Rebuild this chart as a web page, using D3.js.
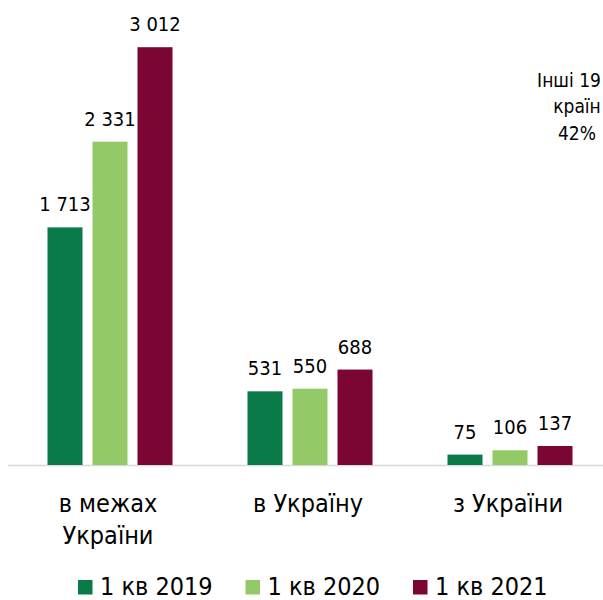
<!DOCTYPE html>
<html>
<head>
<meta charset="utf-8">
<script src="https://cdn.jsdelivr.net/npm/d3@7"></script>
<style>
  body { margin: 0; background: #fff; overflow: hidden; }
  svg { display: block; font-family: 'DejaVu Sans Condensed', 'DejaVu Sans', sans-serif; font-stretch: condensed; }
</style>
</head>
<body>
<div id="chart"></div>
<script>
// categories and series
const categories = [['в межах', 'України'], ['в Україну'], ['з України']]
const categoryKeys = ['inside', 'to', 'from']
const seriesNames = ['1 кв 2019', '1 кв 2020', '1 кв 2021']
const seriesColors = ['#0a7a48', '#93c967', '#7b0533']
const values2019 = [1713, 531, 75]
const values2020 = [2331, 550, 106]
const values2021 = [3012, 688, 137]
const sideNote = ['Інші 19', 'країн', '42%']

const width = 603
const height = 600
const baseY = 465

const svg = d3.select('#chart')
  .append('svg')
  .attr('width', width)
  .attr('height', height)

const seriesValues = [values2019, values2020, values2021]

let x0 = d3.scaleBand().domain(categoryKeys).range([10, 610]).padding(0)
let x1 = d3.scaleBand().domain(seriesNames).range([37.5, 162.5]).paddingInner(10 / 45).paddingOuter(0)
let y = d3.scaleLinear().domain([0, 3100]).range([baseY, 35])

let fmt = v => d3.format(',')(v).replace(/,/g, ' ')

let data = []
categoryKeys.forEach((c, i) => {
  seriesNames.forEach((s, j) => {
    data.push({cat: c, series: s, value: seriesValues[j][i], color: seriesColors[j]})
  })
})

// baseline
svg.append('line')
  .attr('x1', 8).attr('x2', 610)
  .attr('y1', baseY + 0.5).attr('y2', baseY + 0.5)
  .attr('stroke', '#d9d9d9')
  .attr('stroke-width', 1.5)

let groups = svg.selectAll('.bar')
  .data(data)
  .enter()
  .append('g')
  .attr('transform', d => `translate(${x0(d.cat) + x1(d.series)},0)`)

groups.append('rect')
  .attr('x', 0)
  .attr('y', d => y(d.value))
  .attr('width', x1.bandwidth())
  .attr('height', d => baseY - y(d.value))
  .attr('fill', d => d.color)

groups.append('text')
  .attr('x', x1.bandwidth() / 2)
  .attr('y', d => y(d.value) - 16)
  .attr('text-anchor', 'middle')
  .style('font-size', '20px')
  .attr('fill', '#000')
  .text(d => fmt(d.value))

// category labels
categoryKeys.forEach((c, i) => {
  let t = svg.append('text')
    .attr('text-anchor', 'middle')
    .style('font-size', '25px')
    .attr('fill', '#000')
  categories[i].forEach((line, k) => {
    t.append('tspan')
      .attr('x', x0(c) + x0.bandwidth() / 2 - 2)
      .attr('y', 511.5 + k * 32.5)
      .text(line)
  })
})

// legend
let legend = svg.selectAll('.legend')
  .data(seriesNames)
  .enter()
  .append('g')
  .attr('transform', (d, i) => `translate(${78 + i * 167.5},580)`)
legend.append('rect')
  .attr('width', 14.5).attr('height', 14.5)
  .attr('fill', (d, i) => seriesColors[i])
legend.append('text')
  .attr('x', 22).attr('y', 14.5)
  .style('font-size', '25px')
  .attr('fill', '#000')
  .text(d => d)

// stray label from neighbouring chart
let note = svg.append('text')
  .attr('text-anchor', 'middle')
  .style('font-size', '19px')
  .attr('fill', '#000')
sideNote.forEach((line, k) => {
  note.append('tspan')
    .attr('x', k === 0 ? 569 : 577)
    .attr('y', 86.5 + k * 26.5)
    .text(line)
})
</script>
</body>
</html>
